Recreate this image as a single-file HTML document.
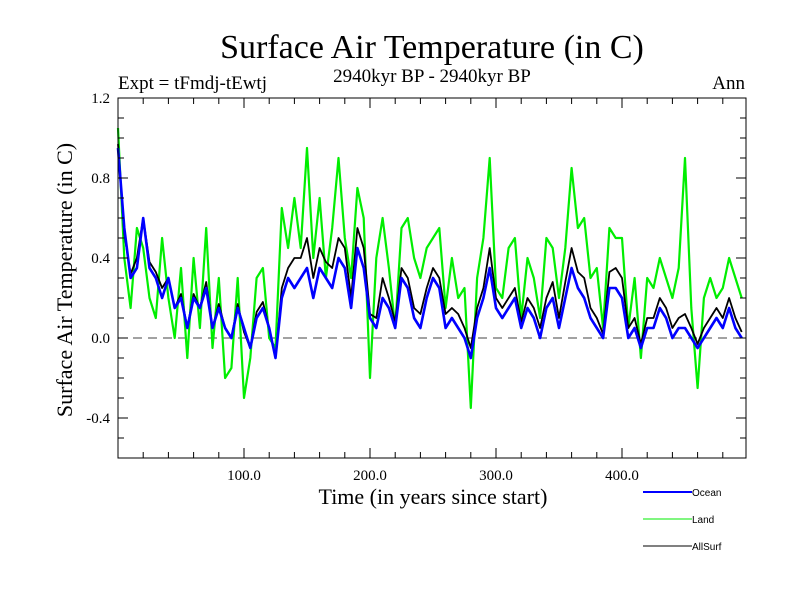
<!DOCTYPE html>
<html><head><meta charset="utf-8"><style>
body{margin:0;background:#fff;}
svg{display:block;font-family:"Liberation Serif",serif;}
</style></head><body>
<svg id="chart" width="800" height="600">
<text x="432" y="58" font-size="34" text-anchor="middle">Surface Air Temperature (in C)</text>
<text x="118" y="89" font-size="19">Expt = tFmdj-tEwtj</text>
<text x="432" y="82" font-size="19" text-anchor="middle">2940kyr BP - 2940kyr BP</text>
<text x="745" y="89" font-size="19" text-anchor="end">Ann</text>
<text x="433" y="504" font-size="22" text-anchor="middle">Time (in years since start)</text>
<text transform="translate(72,280) rotate(-90)" font-size="22" text-anchor="middle">Surface Air Temperature (in C)</text>
<g id="plot"></g>
<g id="legend" font-family="Liberation Sans, sans-serif" font-size="10">
<line x1="643" y1="492" x2="692" y2="492" stroke="#0000ff" stroke-width="2"/>
<text x="692" y="496">Ocean</text>
<line x1="643" y1="519" x2="692" y2="519" stroke="#00ee00" stroke-width="1"/>
<text x="692" y="523">Land</text>
<line x1="643" y1="546" x2="692" y2="546" stroke="#000" stroke-width="1"/>
<text x="692" y="550">AllSurf</text>
</g>
</svg>
<script>
const years = [];
for (let i = 0; i < 100; i++) years.push(i * 5);
const ocean = [0.95,0.55,0.3,0.35,0.6,0.35,0.3,0.2,0.3,0.15,0.2,0.05,0.2,0.15,0.25,0.05,0.15,0.05,0.0,0.15,0.05,-0.05,0.1,0.15,0.05,-0.1,0.2,0.3,0.25,0.3,0.35,0.2,0.35,0.3,0.25,0.4,0.35,0.15,0.45,0.35,0.1,0.05,0.2,0.15,0.05,0.3,0.25,0.1,0.05,0.2,0.3,0.25,0.05,0.1,0.05,0.0,-0.1,0.1,0.2,0.35,0.15,0.1,0.15,0.2,0.05,0.15,0.1,0.0,0.15,0.2,0.05,0.2,0.35,0.25,0.2,0.1,0.05,0.0,0.25,0.25,0.2,0.0,0.05,-0.05,0.05,0.05,0.15,0.1,0.0,0.05,0.05,0.0,-0.05,0.0,0.05,0.1,0.05,0.15,0.05,0.0];
const land = [1.05,0.4,0.15,0.55,0.45,0.2,0.1,0.5,0.2,0.0,0.35,-0.1,0.4,0.05,0.55,-0.05,0.3,-0.2,-0.15,0.3,-0.3,-0.1,0.3,0.35,0.0,-0.05,0.65,0.45,0.7,0.45,0.95,0.4,0.7,0.3,0.55,0.9,0.5,0.3,0.75,0.6,-0.2,0.4,0.6,0.35,0.05,0.55,0.6,0.4,0.3,0.45,0.5,0.55,0.15,0.4,0.2,0.25,-0.35,0.3,0.5,0.9,0.25,0.2,0.45,0.5,0.1,0.4,0.3,0.1,0.5,0.45,0.2,0.45,0.85,0.55,0.6,0.3,0.35,0.05,0.55,0.5,0.5,0.05,0.3,-0.1,0.3,0.25,0.4,0.3,0.2,0.35,0.9,0.15,-0.25,0.2,0.3,0.2,0.25,0.4,0.3,0.2];
const allsurf = [0.97,0.52,0.32,0.4,0.6,0.38,0.33,0.25,0.3,0.15,0.22,0.05,0.22,0.15,0.28,0.05,0.17,0.05,0.0,0.17,0.03,-0.05,0.13,0.18,0.05,-0.1,0.25,0.35,0.4,0.4,0.5,0.3,0.45,0.38,0.35,0.5,0.45,0.2,0.55,0.45,0.12,0.1,0.3,0.2,0.08,0.35,0.3,0.15,0.12,0.25,0.35,0.3,0.12,0.15,0.12,0.05,-0.05,0.15,0.25,0.45,0.2,0.15,0.2,0.25,0.08,0.2,0.15,0.05,0.2,0.28,0.1,0.28,0.45,0.33,0.3,0.15,0.1,0.02,0.33,0.35,0.3,0.05,0.1,-0.03,0.1,0.1,0.2,0.15,0.05,0.1,0.12,0.05,-0.03,0.05,0.1,0.15,0.1,0.2,0.1,0.03];
const yTicks = [-0.4,0.0,0.4,0.8,1.2];
const xTicks = [100,200,300,400];

const X0=118, X1=746, Y0=98, Y1=458;
const xs = v => X0 + v * 1.26;
const ys = v => 338 - v * 200;
const NS = 'http://www.w3.org/2000/svg';
const plot = document.getElementById('plot');
function mk(tag, attrs){const e=document.createElementNS(NS,tag);for(const k in attrs)e.setAttribute(k,attrs[k]);plot.appendChild(e);return e;}

const z = mk('line',{x1:X0,x2:X1,y1:ys(0),y2:ys(0),stroke:'#444','stroke-dasharray':'9,6','stroke-width':1});



function series(vals, color, w, name){
  const d = vals.map((v,i)=>(i?'L':'M')+xs(years[i]).toFixed(1)+','+ys(v).toFixed(1)).join('');
  const p = mk('path',{d:d,fill:'none',stroke:color,'stroke-width':w,'stroke-linejoin':'round'});
  
  
}
series(land,'#00ee00',2.2,'land-series');
series(allsurf,'#000000',1.8,'allsurf-series');
series(ocean,'#0000ff',2.6,'ocean-series');

const fr = mk('rect',{x:X0,y:Y0,width:X1-X0,height:Y1-Y0,fill:'none',stroke:'#000','stroke-width':1});



for(let t=20;t<500;t+=20){
  const major = t%100===0, L = major?10:6, x=xs(t);
  mk('line',{x1:x,x2:x,y1:Y1,y2:Y1-L,stroke:'#000'});
  mk('line',{x1:x,x2:x,y1:Y0,y2:Y0+L,stroke:'#000'});
}
xTicks.forEach(t=>{
  const tx = mk('text',{x:xs(t),y:Y1+22,'font-size':15,'text-anchor':'middle'});
  tx.textContent = t.toFixed(1);
  
  
});
for(let k=-5;k<=11;k++){
  const v=k*0.1, major = (k%4===0), L = major?10:6, y=ys(v);
  mk('line',{x1:X0,x2:X0+L,y1:y,y2:y,stroke:'#000'});
  mk('line',{x1:X1,x2:X1-L,y1:y,y2:y,stroke:'#000'});
}
yTicks.forEach(v=>{
  const tx = mk('text',{x:X0-8,y:ys(v)+5,'font-size':15,'text-anchor':'end'});
  tx.textContent = v.toFixed(1);
  
  
});
</script>
</body></html>
